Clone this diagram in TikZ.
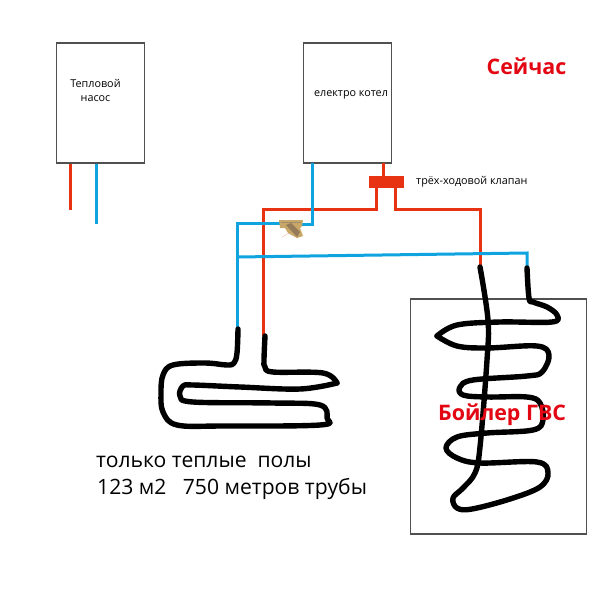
\documentclass[tikz,border=0pt]{standalone}
\usepackage{fontspec}
\setmainfont{Open Sans}
\usetikzlibrary{calc}
\definecolor{pred}{HTML}{E73312}
\definecolor{pblue}{HTML}{0FA3E0}
\definecolor{tred}{HTML}{E30613}
\definecolor{boxg}{HTML}{505050}
\definecolor{brass}{HTML}{C8A868}
\definecolor{brassd}{HTML}{7A5A30}
\tikzset{
  unitbox/.style={draw=boxg,line width=1.2pt,fill=white,minimum width=88pt,minimum height=120pt,inner sep=0pt},
  redpipe/.style={draw=pred,line width=3pt,line join=miter},
  bluepipe/.style={draw=pblue,line width=3pt,line join=miter},
  coil/.style={draw=black,line width=5.4pt,line cap=round,line join=round},
  lab/.style={inner sep=0pt,text=black,anchor=center},
  smalllab/.style={lab,font=\fontsize{10.8}{14}\selectfont,align=center},
  biglab/.style={lab,font=\fontsize{21.1}{26}\selectfont,anchor=west},
  redlab/.style={inner sep=0pt,text=tred,font=\fontsize{21.4}{26}\selectfont\bfseries}
}
\begin{document}
\begin{tikzpicture}[x=1pt,y=-1pt]
\useasboundingbox (0,0) rectangle (607,589);
\fill[white] (0,0) rectangle (607,589);
% boxes
\node[unitbox] (hp) at (100.5,103) {};
\node[unitbox] (boiler) at (347.5,103) {};
\node[draw=boxg,line width=1.2pt,minimum width=176pt,minimum height=235pt,inner sep=0pt] (tank) at (498.7,416.5) {};
\node[smalllab] (hpt) at (95.5,90) {Тепловой\\насос};
\node[smalllab] (bt) at (351,94.5) {електро котел};
\node[smalllab,anchor=west] (vt) at (416,181.5) {трёх-ходовой клапан};
% valve
\node[fill=pred,minimum width=35pt,minimum height=12pt,inner sep=0pt] (valve) at (386.5,182) {};
% heat pump stubs
\coordinate (hpr) at (70,210);
\coordinate (hpb) at (96.5,224);
\draw[redpipe] (hpr|-hp.south) -- (hpr);
\draw[bluepipe] (hpb|-hp.south) -- (hpb);
% red pipes
\coordinate (fh) at (263,336);
\coordinate (th) at (480,267);
\draw[redpipe] (383,163) -- (383,176);
\draw[redpipe] (376,188) -- (376,209) -- (263,209) -- (fh);
\draw[redpipe] (395,188) -- (395,209) -- (480,209) -- (th);
% blue pipes
\coordinate (fc) at (237,332);
\coordinate (tc) at (527,268);
\coordinate (jn) at (237,257);
\draw[bluepipe] (312,163) -- (312,224) -- (300,224);
\draw[bluepipe] (285,223.5) -- (237,223.5) -- (fc);
\draw[bluepipe] (jn) -- (527,253) -- (tc);
% strainer
\fill[brass] (279,220) -- (303,220) -- (302,226) -- (300,228) -- (303,236) -- (297,238) -- (288,233) -- (285,228) -- (280,228) -- cycle;
\fill[brassd!80] (286,225) -- (291,223) -- (300,232) -- (297,237) -- cycle;
\draw[brassd!70,line width=1pt] (281,222.5) -- (301,222.5);
\draw[pred!35,line width=.4pt] (282,237) -- (289,233);
% floor coil
\draw[coil] plot[smooth,tension=.6] coordinates {(238,329) (237,353) (234,363) (227,365) (205,363) (173,365) (163,375) (161,393) (163,412) (177,425) (223,426) (320,425) (327,418) (320,405) (273,403) (193,402) (180,396) (183,386) (193,385) (240,387) (300,389) (337,383)};
\draw[coil] plot[smooth,tension=.6] coordinates {(337,383) (323,373) (273,372) (265,367) (264,360) (265,336)};
% tank coil
\draw[coil] plot[smooth,tension=.6] coordinates {(527,268) (529,298) (533,302) (547,307) (557,315) (552,322) (500,322) (457,325) (437,336)};
\draw[coil] plot[smooth,tension=.6] coordinates {(437,336) (457,346) (487,348) (537,346) (549,355) (542,372) (527,376) (473,380) (460,387) (463,395) (487,397) (527,397) (540,403) (543,420) (533,430) (487,433) (457,437) (446,448) (457,458) (480,463) (537,462) (548,473) (540,487) (510,499) (472,509) (457,508) (453,498) (463,488) (475,473) (480,447) (487,360) (488,320) (480,267)};
% labels
\node[redlab,anchor=west] (now) at (486.5,66) {Сейчас};
\node[redlab,anchor=west] (tl) at (438,414.5) {Бойлер ГВС};
\node[biglab] (l1) at (96,461.5) {только теплые\ \ полы};
\node[biglab] (l2) at (97,488.5) {123 м2\ \ \ 750 метров трубы};
\end{tikzpicture}
\end{document}
